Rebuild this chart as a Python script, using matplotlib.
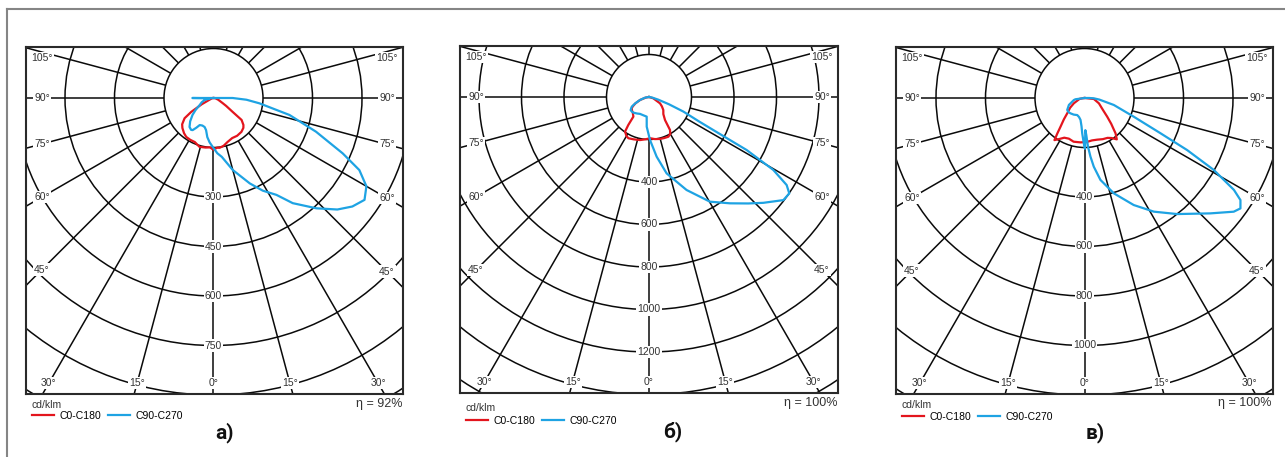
import numpy as np
import matplotlib
matplotlib.use("Agg")
import matplotlib.pyplot as plt
from matplotlib.lines import Line2D
from matplotlib.patches import Circle

plt.rcParams['font.family'] = ['Liberation Sans', 'DejaVu Sans']

W, H = 1285, 457

# gamma in degrees: negative = left half (C180 / C270), positive = right half (C0 / C90)
# intensities in cd/klm
a_c0_gamma = [-180, -90, -75, -62, -58, -55, -50, -46, -40, -35, -29, -23, -16, -9, -4, 0, 4, 7,
              12, 17.6, 25, 32, 39.5, 45, 48, 52, 54, 58, 61, 70, 80, 90, 180]
a_c0_cd = [0, 0, 6, 40, 80, 107, 124, 131, 139, 144, 145, 145, 154, 152, 150, 157, 151, 152,
           148, 140, 134, 135, 133, 128, 122, 108, 72, 45, 31, 15, 6, 0, 0]
a_c90_gamma = [-180, -95, -90, -86, -77, -70, -63, -56, -51, -45, -39.6, -35, -33, -30, -27, -22,
               -17, -13, -9, -5, -1, 4, 8, 15, 23, 28, 33, 37, 43, 48, 52, 56, 60, 63.7, 66.8,
               71.8, 77.4, 83.4, 87, 90, 95, 180]
a_c90_cd = [0, 0, 64, 10, 28, 38, 47, 66, 82, 100, 114, 118, 116, 104, 92, 90,
            92, 100, 120, 135, 148, 168, 180, 226, 281, 318, 350, 399, 457, 505, 534, 552, 535,
            493, 426, 327, 236, 140, 100, 58, 0, 0]

b_c0_gamma = [-180, -90, -80, -71.5, -65, -60, -57, -52, -46, -42, -38.5, -36.5, -34.7, -30, -26.6,
              -20, -11.8, -5, 1.4, 8, 14.7, 20, 26, 30, 32.5, 34.8, 40, 47.7, 54, 60, 73, 90, 180]
b_c0_cd = [0, 0, 15, 45, 70, 88, 97, 102, 106, 112, 118, 164, 198, 212, 217,
           212, 207, 200, 194, 200, 204, 206, 208, 200, 184, 132, 105, 91, 75, 60, 21, 0, 0]
b_c90_gamma = [-180, -90, -80, -71.5, -65, -60.7, -54.6, -50, -45, -36, -28, -18, -6.7, -4.4, 1.3,
               7.3, 13, 22, 30.2, 37.3, 43, 47.2, 52.5, 55.5, 57.4, 59.6, 61.5, 62.8, 64, 67, 70,
               74, 80, 90, 180]
b_c90_cd = [0, 0, 20, 45, 72, 93, 106, 106, 104, 96, 90, 90, 93, 140, 202,
            283, 369, 472, 570, 629, 685, 733, 797, 801, 769, 678, 523, 340, 260, 176, 100,
            45, 15, 0, 0]

c_c0_gamma = [-180, -90, -80, -63.6, -56, -48.5, -44, -39.9, -37.5, -35.5, -32, -27, -21, -14, -5,
              3, 10, 17, 24, 30, 34, 38, 41.3, 46, 50.5, 57, 69.7, 78, 84, 90, 180]
c_c0_cd = [0, 0, 20, 48, 70, 93, 120, 151, 180, 209, 196, 180, 176, 182, 180,
           178, 174, 176, 182, 186, 195, 212, 190, 150, 119, 89, 62, 45, 38, 0, 0]
c_c90_gamma = [-180, -90, -82, -79, -66, -55.3, -48, -42.5, -33, -23, -16, -10.3, -6, -3.7, -0.9,
               0.5, 1.5, 2.8, 4, 5.8, 7.7, 11, 17.1, 24.7, 31.4, 38.6, 47.5, 52.7, 54.7, 56.8,
               58.4, 60.9, 63.1, 65.1, 69.2, 76.6, 84, 88, 90, 95, 180]
c_c90_cd = [0, 0, 37, 44, 69, 85, 86, 84, 80, 75, 80, 90, 115, 143, 183,
            205, 130, 150, 195, 238, 280, 337, 403, 476, 538, 600, 690, 758, 772, 753,
            709, 598, 465, 339, 213, 122, 60, 38, 20, 0, 0]

series_names = ['C0-C180', 'C90-C270']
ring_steps = [150, 200, 200]
angle_ticks = [0, 15, 30, 45, 60, 75, 90, 105]
etas = ['η = 92%', 'η = 100%', 'η = 100%']
captions = ['а)', 'б)', 'в)']

RED = '#e3151d'
BLUE = '#1ea3e3'
GRID = '#0a0a0a'
TXT = '#333333'

# layout (pixels): frame box, polar centre, pixels per ring step
frames = [(26, 47, 403, 394), (460, 46, 838, 393), (896, 47, 1273, 394)]
centres = [(213.5, 98), (649, 97), (1084.5, 98)]
px_per_step = [49.5, 42.5, 49.5]
legend_y = [416, 421, 417]
unit_y = [405, 408, 405]
eta_y = [404, 403, 403]
caption_xy = [(224, 433), (673, 432), (1095, 433)]


def to_xy(gamma, cd):
    g = np.radians(np.asarray(gamma, float))
    cd = np.asarray(cd, float)
    return cd * np.sin(g), -cd * np.cos(g)


def draw_panel(fig, i, curves):
    x0, y0, x1, y1 = frames[i]
    cx, cy = centres[i]
    step = ring_steps[i]
    s = px_per_step[i] / step  # pixels per cd
    ax = fig.add_axes([x0 / W, 1 - y1 / H, (x1 - x0) / W, (y1 - y0) / H])
    ax.set_xlim((x0 - cx) / s, (x1 - cx) / s)
    ax.set_ylim(-(y1 - cy) / s, (cy - y0) / s)
    ax.set_xticks([])
    ax.set_yticks([])
    for sp in ax.spines.values():
        sp.set_linewidth(1.5)
        sp.set_color('#2a2a2a')
        sp.set_zorder(6)

    R = 460 / s
    # rings
    k = 2
    while k * step < R:
        ax.add_patch(Circle((0, 0), k * step, fill=False, ec=GRID, lw=1.1, zorder=1))
        k += 1
    ax.add_patch(Circle((0, 0), step, fc='white', ec=GRID, lw=1.1, zorder=1.5))
    # radial lines every 15 degrees
    for a in range(0, 181, 15):
        for side in ((1,) if a in (0, 180) else (-1, 1)):
            g = np.radians(a)
            dx, dy = side * np.sin(g), -np.cos(g)
            ax.plot([step * dx, R * dx], [step * dy, R * dy], color=GRID, lw=1.1, zorder=1)

    # ring labels on the vertical axis
    k = 2
    while k * step * s < (y1 - cy) - 12:
        ax.text(0, -k * step, f'{k * step}', ha='center', va='center', fontsize=7.5, color=TXT,
                bbox=dict(boxstyle='square,pad=0.12', fc='white', ec='none'), zorder=3)
        k += 1

    # angle labels near the frame
    for a in angle_ticks:
        for side in ((1,) if a == 0 else (-1, 1)):
            g = np.radians(a)
            dx, dy = side * np.sin(g), -np.cos(g)
            if a >= 45:
                half = (x1 - cx) if side > 0 else (cx - x0)
                xd = side * (half - 16) / s
                yd = xd / dx * dy
                yd = min(yd, (cy - y0 - 11) / s)
            else:
                yd = -((y1 - cy) - 11) / s
                xd = yd / dy * dx
            ax.text(xd, yd, f'{a}°', ha='center', va='center', fontsize=7.5, color=TXT,
                    bbox=dict(boxstyle='square,pad=0.1', fc='white', ec='none'), zorder=3)

    handles = []
    for (gam, cd), col, name in zip(curves, (RED, BLUE), series_names):
        x, y = to_xy(gam, cd)
        ln, = ax.plot(x, y, color=col, lw=1.6, zorder=4, solid_joinstyle='round', label=name)
        handles.append(ln)

    ax.legend(handles=handles, loc='center left',
              bbox_to_anchor=((x0 + 6) / W, 1 - legend_y[i] / H), bbox_transform=fig.transFigure,
              ncol=2, frameon=False, fontsize=7.5, handlelength=2.1, handletextpad=0.5,
              columnspacing=0.7, borderpad=0, borderaxespad=0)
    fig.text((x0 + 6) / W, 1 - unit_y[i] / H, 'cd/klm', fontsize=7.5, color=TXT,
             ha='left', va='center')
    fig.text((x1 - 1) / W, 1 - eta_y[i] / H, etas[i], fontsize=9, color=TXT,
             ha='right', va='center')
    cxp, cyp = caption_xy[i]
    fig.text(cxp / W, 1 - cyp / H, captions[i], fontsize=15, fontweight='bold',
             family=['Roboto', 'DejaVu Sans'], color='#111111', ha='center', va='center')


fig = plt.figure(figsize=(W / 100, H / 100), dpi=100)
fig.patch.set_facecolor('white')

# grey outer border (top and left edges visible)
fig.add_artist(Line2D([7 / W, 1.0], [1 - 9 / H, 1 - 9 / H], color='#858585', lw=1.5))
fig.add_artist(Line2D([7 / W, 7 / W], [0, 1 - 9 / H], color='#858585', lw=1.5))

draw_panel(fig, 0, [(a_c0_gamma, a_c0_cd), (a_c90_gamma, a_c90_cd)])
draw_panel(fig, 1, [(b_c0_gamma, b_c0_cd), (b_c90_gamma, b_c90_cd)])
draw_panel(fig, 2, [(c_c0_gamma, c_c0_cd), (c_c90_gamma, c_c90_cd)])

fig.savefig('out.png', dpi=100)
